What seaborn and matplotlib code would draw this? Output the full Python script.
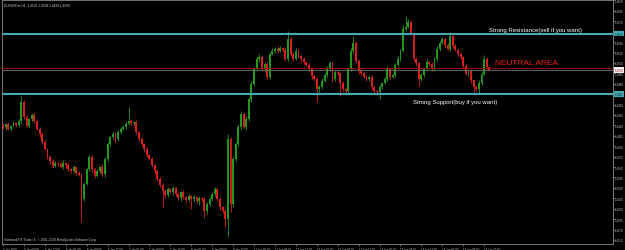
import numpy as np
import pandas as pd
import matplotlib
matplotlib.use("Agg")
import matplotlib.pyplot as plt
import seaborn as sns

# ---------------- data (EURUSD H1) ----------------
first_open = 1.4421
closes = [
    1.4418, 1.4422, 1.4415, 1.4419, 1.4423, 1.4421, 1.4426, 1.4454, 1.4432, 1.4419,
    1.4429, 1.4435, 1.4426, 1.4415, 1.4408, 1.4396, 1.4386, 1.4374, 1.4369, 1.4362,
    1.4366, 1.4364, 1.4360, 1.4366, 1.4363, 1.4357, 1.4354, 1.4360, 1.4351, 1.4349,
    1.4314, 1.4336, 1.4357, 1.4374, 1.4357, 1.4347, 1.4354, 1.4360, 1.4350, 1.4372,
    1.4393, 1.4403, 1.4408, 1.4400, 1.4410, 1.4415, 1.4418, 1.4422, 1.4426, 1.4423,
    1.4425, 1.4410, 1.4400, 1.4393, 1.4386, 1.4377, 1.4372, 1.4363, 1.4354, 1.4343,
    1.4334, 1.4326, 1.4320, 1.4328, 1.4324, 1.4330, 1.4321, 1.4315, 1.4324, 1.4317,
    1.4313, 1.4318, 1.4314, 1.4317, 1.4311, 1.4315, 1.4314, 1.4297, 1.4307, 1.4314,
    1.4321, 1.4328, 1.4314, 1.4302, 1.4297, 1.4285, 1.4400, 1.4307, 1.4372, 1.4393,
    1.4418, 1.4436, 1.4418, 1.4429, 1.4458, 1.4480, 1.4501, 1.4516, 1.4518, 1.4501,
    1.4508, 1.4490, 1.4523, 1.4527, 1.4530, 1.4527, 1.4531, 1.4529, 1.4516, 1.4544,
    1.4523, 1.4516, 1.4527, 1.4520, 1.4516, 1.4511, 1.4507, 1.4501, 1.4491, 1.4487,
    1.4472, 1.4475, 1.4484, 1.4493, 1.4501, 1.4510, 1.4487, 1.4497, 1.4495, 1.4481,
    1.4472, 1.4470, 1.4501, 1.4527, 1.4539, 1.4513, 1.4498, 1.4495, 1.4490, 1.4487,
    1.4490, 1.4475, 1.4470, 1.4468, 1.4475, 1.4481, 1.4487, 1.4501, 1.4490, 1.4493,
    1.4507, 1.4516, 1.4527, 1.4559, 1.4562, 1.4569, 1.4553, 1.4516, 1.4510, 1.4487,
    1.4493, 1.4501, 1.4511, 1.4508, 1.4501, 1.4516, 1.4530, 1.4539, 1.4544, 1.4536,
    1.4530, 1.4549, 1.4534, 1.4529, 1.4523, 1.4518, 1.4506, 1.4494, 1.4498, 1.4485,
    1.4475, 1.4472, 1.4481, 1.4494, 1.4516, 1.4504, 1.4500,
]
upper_wick_pips = [
    3, 2, 3, 2, 4, 2, 3, 9, 2, 3,
    2, 3, 5, 2, 3, 2, 3, 2, 3, 2,
    3, 2, 3, 4, 2, 3, 2, 3, 2, 3,
    2, 3, 2, 4, 3, 2, 3, 2, 4, 2,
    3, 2, 4, 2, 3, 2, 3, 4, 20, 3,
    2, 3, 2, 3, 2, 3, 2, 3, 2, 3,
    2, 3, 2, 4, 2, 3, 2, 3, 2, 3,
    2, 3, 2, 3, 2, 4, 2, 3, 2, 3,
    3, 4, 2, 3, 2, 3, 7, 3, 4, 3,
    4, 5, 3, 4, 3, 4, 3, 4, 5, 3,
    3, 4, 3, 4, 3, 4, 3, 2, 3, 12,
    3, 2, 4, 3, 2, 3, 2, 3, 2, 3,
    2, 3, 4, 3, 4, 3, 2, 3, 3, 2,
    3, 2, 3, 4, 10, 3, 2, 3, 2, 3,
    2, 3, 2, 3, 3, 2, 3, 4, 2, 3,
    3, 4, 3, 5, 16, 4, 3, 2, 3, 2,
    3, 2, 4, 2, 3, 3, 4, 3, 4, 2,
    3, 6, 2, 3, 2, 3, 2, 3, 2, 3,
    2, 3, 4, 3, 6, 3, 2,
]
lower_wick_pips = [
    3, 4, 2, 3, 2, 3, 3, 4, 3, 2,
    3, 2, 3, 2, 4, 3, 2, 3, 4, 3,
    2, 3, 2, 3, 4, 2, 3, 2, 3, 2,
    33, 3, 2, 3, 4, 3, 2, 3, 3, 4,
    3, 2, 3, 4, 2, 3, 2, 3, 2, 3,
    3, 2, 3, 2, 4, 3, 2, 3, 4, 3,
    3, 23, 4, 3, 2, 4, 3, 3, 4, 3,
    5, 3, 14, 4, 3, 5, 3, 11, 4, 3,
    3, 2, 3, 4, 3, 11, 25, 11, 4, 3,
    3, 4, 3, 5, 3, 4, 3, 3, 4, 3,
    4, 3, 3, 2, 3, 3, 2, 3, 3, 3,
    3, 3, 2, 3, 4, 3, 2, 3, 4, 3,
    19, 4, 3, 2, 3, 3, 4, 3, 3, 19,
    3, 4, 3, 2, 3, 3, 4, 3, 2, 3,
    3, 4, 3, 4, 10, 3, 2, 3, 3, 2,
    3, 2, 3, 2, 3, 2, 3, 3, 4, 10,
    3, 3, 2, 3, 3, 2, 3, 3, 2, 3,
    2, 3, 3, 2, 3, 3, 3, 2, 3, 4,
    7, 3, 7, 3, 2, 3, 2,
]
x_label_texts = [
    "5 Jan 2010", "5 Jan 09:00", "5 Jan 17:00", "6 Jan 01:00", "6 Jan 09:00",
    "6 Jan 17:00", "7 Jan 01:00", "7 Jan 09:00", "7 Jan 17:00", "8 Jan 01:00",
    "8 Jan 09:00", "8 Jan 17:00", "11 Jan 01:00", "11 Jan 09:00", "11 Jan 17:00",
    "12 Jan 01:00", "12 Jan 09:00", "12 Jan 17:00", "13 Jan 01:00", "13 Jan 09:00",
    "13 Jan 17:00", "14 Jan 01:00", "14 Jan 09:00", "14 Jan 17:00",
]
bars_per_label = 8
y_tick_values = [
    1.4255, 1.4270, 1.4285, 1.4300, 1.4315, 1.4330, 1.4345, 1.4360, 1.4375, 1.4390,
    1.4405, 1.4420, 1.4435, 1.4450, 1.4465, 1.4480, 1.4495, 1.4510, 1.4525, 1.4540,
    1.4555, 1.4570, 1.4585, 1.4600,
]
resistance_level = 1.4552
support_level = 1.4465
neutral_level = 1.4503
bid_level = 1.4500
header_text = "EURUSDm,H1  1.4502 1.4508 1.4499 1.4500"
footer_text = "Interbank FX Trader 4, \u00a9 2001-2009 MetaQuotes Software Corp."

# ---------------- build frame ----------------
pip = 0.0001
df = pd.DataFrame({"close": closes, "uw": upper_wick_pips, "lw": lower_wick_pips})
df["bar"] = np.arange(len(df))
df["open"] = df["close"].shift(1).fillna(first_open)
top = df[["open", "close"]].max(axis=1)
bot = df[["open", "close"]].min(axis=1)
df["high"] = top + df["uw"] * pip
df["low"] = bot - df["lw"] * pip

GREEN = "#1f9a1f"
RED = "#d9201c"
DOJI = "#d0d0d0"
def colour(r):
    if abs(r.close - r.open) < 0.00005:
        return DOJI
    return GREEN if r.close > r.open else RED
df["col"] = df.apply(colour, axis=1)

# ---------------- style ----------------
sns.set_theme(style="dark", rc={
    "axes.facecolor": "black", "figure.facecolor": "black",
    "axes.edgecolor": "#8a8a8a", "axes.grid": False,
})
plt.rcParams["font.family"] = ["Liberation Sans", "DejaVu Sans"]

W, H = 625, 251
fig = plt.figure(figsize=(W / 100, H / 100), dpi=100)
ax_l, ax_r, ax_t, ax_b = 2, 613, 1, 245
ax = fig.add_axes([ax_l / W, (H - ax_b) / H, (ax_r - ax_l) / W, (ax_b - ax_t) / H])
ax.set_facecolor("black")

# candles
body_h = (df["close"] - df["open"]).where((df["close"] - df["open"]).abs() >= 0.00005, 0.00005)
ax.vlines(df["bar"], df["low"], df["high"], colors=df["col"], lw=0.6, zorder=2)
ax.bar(df["bar"], body_h, bottom=df["open"], width=0.72, color=df["col"],
       linewidth=0, zorder=3)

# horizontal levels
ax.axhline(resistance_level, color="#44aab4", lw=1.5, zorder=4)
ax.axhline(support_level, color="#44aab4", lw=1.5, zorder=4)
ax.axhline(neutral_level, color="#9a1010", lw=0.7, zorder=4)
ax.axhline(bid_level, color="#707070", lw=0.6, zorder=4)

# axes limits
px_per_bar = 2.615
first_bar_px = 3
ax.set_xlim((ax_l - first_bar_px) / px_per_bar, (ax_r - first_bar_px) / px_per_bar)
ax.set_ylim(1.42492, 1.46006)

# ticks (labels hidden under the highlighted level labels are left out)
highlighted = [resistance_level, support_level, bid_level]
ax.yaxis.tick_right()
ax.set_yticks(y_tick_values)
ax.set_yticklabels(["" if min(abs(v - h) for h in highlighted) < 0.00045 else f"{v:.4f}"
                    for v in y_tick_values])
ax.tick_params(axis="y", which="major", length=1.2, width=0.5, color="#8a8a8a",
               labelsize=2.0, labelcolor="#c8c8c8", pad=0.4, right=True, left=False)
xt = [bars_per_label * k for k in range(len(x_label_texts))]
ax.set_xticks(xt)
ax.set_xticklabels(x_label_texts, ha="left")
ax.tick_params(axis="x", which="major", length=1.5, width=0.5, color="#8a8a8a",
               labelsize=2.0, labelcolor="#c8c8c8", pad=0.4, bottom=True)
for s in ax.spines.values():
    s.set_color("#8a8a8a")
    s.set_linewidth(0.6)

# highlighted price labels on the axis
ytr = ax.get_yaxis_transform()
for lvl, fc, tc in [(resistance_level, "#44aab4", "#0a2a2e"),
                    (support_level, "#44aab4", "#0a2a2e"),
                    (bid_level, "#f0f0f0", "#b01010")]:
    ax.text(1.003, lvl, f"{lvl:.4f}", transform=ytr, fontsize=2.0, color=tc,
            ha="left", va="center", clip_on=False, zorder=6,
            bbox=dict(boxstyle="square,pad=0.25", fc=fc, ec="none"))

# annotations
ax.text(0.797, 0.881, "Strong Resistance(sell if you want)", transform=ax.transAxes,
        color="white", fontsize=4.3, ha="left", va="center")
ax.text(0.673, 0.586, "Strong Support(buy if you want)", transform=ax.transAxes,
        color="white", fontsize=4.3, ha="left", va="center")
ax.text(0.807, 0.742, "NEUTRAL AREA", transform=ax.transAxes,
        color="#e8201c", fontsize=6.0, ha="left", va="center")
ax.text(0.003, 0.99, header_text, transform=ax.transAxes,
        color="#c8c8c8", fontsize=2.3, ha="left", va="top")
ax.text(0.003, 0.012, footer_text, transform=ax.transAxes,
        color="#c8c8c8", fontsize=2.3, ha="left", va="bottom")

fig.savefig("out.png", dpi=100, facecolor="black")
